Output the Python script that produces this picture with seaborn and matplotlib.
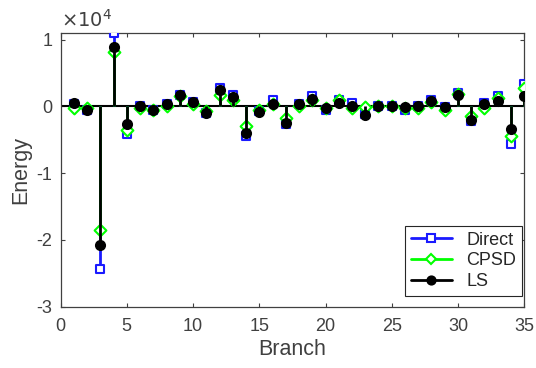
import numpy as np
import seaborn as sns
import matplotlib.pyplot as plt
from matplotlib.lines import Line2D
from matplotlib.legend_handler import HandlerLine2D

# values in units of 1e4
branch = list(range(1, 36))
direct = [0.03, -0.05, -2.43, 1.10, -0.42, 0.00, -0.05, 0.04, 0.17, 0.07,
          -0.10, 0.28, 0.17, -0.45, -0.07, 0.09, -0.27, 0.04, 0.15, -0.05,
          0.10, 0.05, -0.12, 0.00, 0.00, -0.05, 0.00, 0.10, -0.01, 0.20,
          -0.22, 0.05, 0.15, -0.57, 0.33]
cpsd = [-0.02, -0.03, -1.85, 0.82, -0.35, -0.02, -0.05, 0.00, 0.15, 0.03,
        -0.07, 0.17, 0.10, -0.30, -0.05, 0.03, -0.18, 0.00, 0.10, -0.03,
        0.10, -0.02, -0.01, 0.00, 0.00, -0.03, -0.03, 0.07, -0.05, 0.18,
        -0.14, -0.02, 0.12, -0.45, 0.27]
ls = [0.05, -0.05, -2.08, 0.89, -0.27, 0.00, -0.05, 0.04, 0.175, 0.06,
      -0.10, 0.25, 0.14, -0.40, -0.09, 0.04, -0.25, 0.04, 0.11, -0.025,
      0.05, 0.01, -0.125, 0.00, 0.00, -0.01, 0.00, 0.085, -0.01, 0.175,
      -0.20, 0.04, 0.085, -0.34, 0.15]

# name, values, colour, marker, face, marker size (pt)
series = [
    ("Direct", direct, "#1a1aff", "s", "white", 5.8),
    ("CPSD", cpsd, "#00ff00", "D", "white", 6.0),
    ("LS", ls, "black", "o", "black", 6.5),
]

sns.set_theme(style="ticks")
plt.rcParams['font.family'] = ['Liberation Sans', 'DejaVu Sans']
plt.rcParams['axes.unicode_minus'] = False
grey = "#404040"

fig = plt.figure(figsize=(5.36, 3.68), dpi=100)
ax = fig.add_axes([0.113, 0.167, 0.865, 0.743])

ax.axhline(0, color="black", lw=1.5, zorder=1)
z = 2
for name, vals, col, mk, face, ms in series:
    ax.vlines(branch, 0, vals, color=col, lw=2, zorder=z)
    sns.scatterplot(x=branch, y=vals, ax=ax, marker=mk, s=ms ** 2,
                    facecolor=face, edgecolor=col, linewidth=1.5, zorder=z + 1)
    z += 2


class StemHandler(HandlerLine2D):
    def get_xdata(self, legend, xdescent, ydescent, width, height, fontsize):
        xdata = np.array([-xdescent, -xdescent + width])
        return xdata, np.array([-xdescent + width])


handles = []
for name, vals, col, mk, face, ms in series:
    handles.append(Line2D([], [], color=col, lw=2, marker=mk, markersize=ms * 0.9,
                          markerfacecolor=face, markeredgecolor=col, markeredgewidth=1.5,
                          label=name))
leg = ax.legend(handles=handles, loc="lower right", bbox_to_anchor=(0.995, 0.039),
                fontsize=13, handlelength=2.3,
                handler_map={Line2D: StemHandler(numpoints=1)}, fancybox=False,
                framealpha=1, edgecolor="#262626", borderaxespad=0,
                labelspacing=0.22, handletextpad=0.8, borderpad=0.3)
leg.get_frame().set_linewidth(0.8)
for t in leg.get_texts():
    t.set_color("#262626")

ax.set_xlim(0, 35)
ax.set_ylim(-3, 1.1)
ax.set_xticks(range(0, 36, 5))
ax.set_yticks([-3, -2, -1, 0, 1])
ax.tick_params(direction="in", top=True, right=True, labelsize=13,
               colors=grey, length=3, width=0.8)
ax.tick_params(axis="x", pad=8)
ax.tick_params(axis="y", pad=6)
for sp in ax.spines.values():
    sp.set_visible(True)
    sp.set_color(grey)
    sp.set_linewidth(0.9)
ax.set_xlabel("Branch", fontsize=15.5, color=grey, labelpad=3)
ax.set_ylabel("Energy", fontsize=15.5, color=grey, labelpad=4)
ax.text(0.0, 1.01, r"$\times10^{4}$", transform=ax.transAxes, fontsize=14,
        color=grey, ha="left", va="bottom", family="DejaVu Sans")

fig.savefig("out.png", dpi=100)
